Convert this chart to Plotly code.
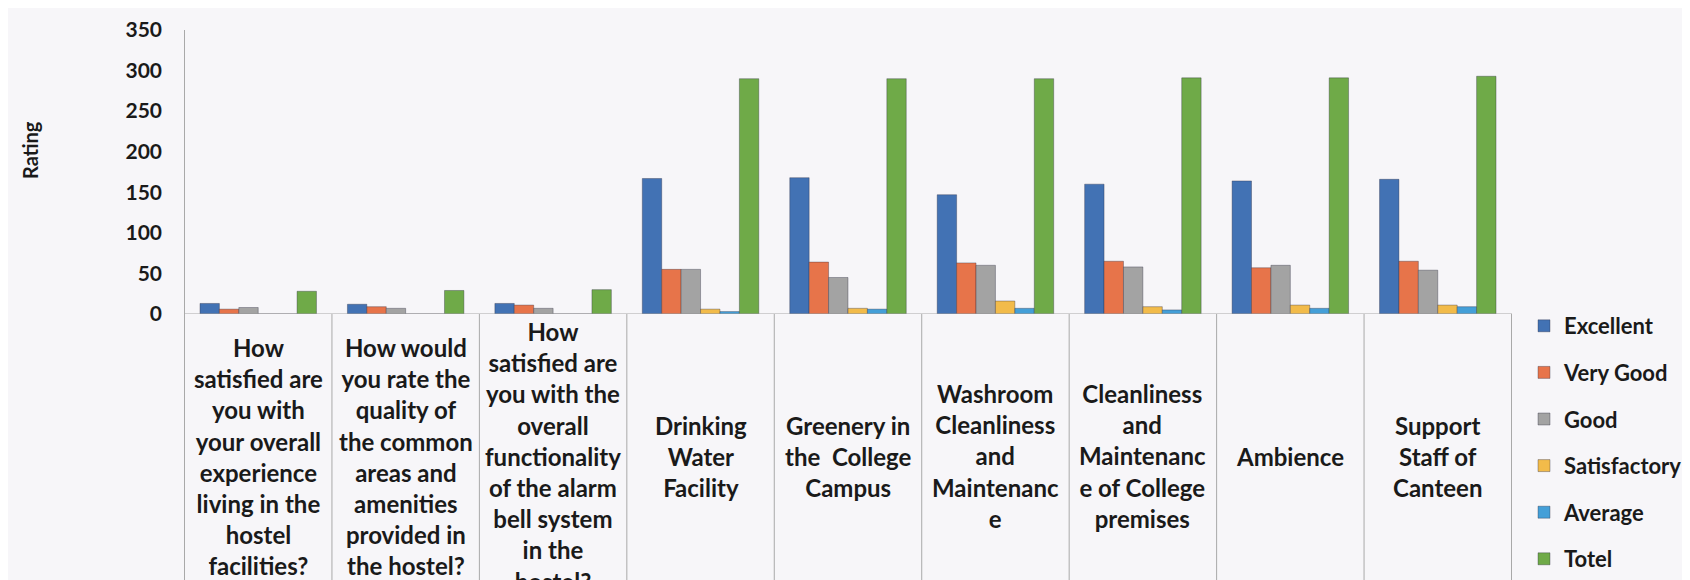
import plotly.graph_objects as go

# survey categories as printed under the axis (line breaks as in the original)
categories = [
    "How<br>satisfied are<br>you with<br>your overall<br>experience<br>living in the<br>hostel<br>facilities?",
    "How would<br>you rate the<br>quality of<br>the common<br>areas and<br>amenities<br>provided in<br>the hostel?",
    "How<br>satisfied are<br>you with the<br>overall<br>functionality<br>of the alarm<br>bell system<br>in the<br>hostel?",
    "Drinking<br>Water<br>Facility",
    "Greenery in<br>the  College<br>Campus",
    "Washroom<br>Cleanliness<br>and<br>Maintenanc<br>e",
    "Cleanliness<br>and<br>Maintenanc<br>e of College<br>premises",
    "Ambience",
    "Support<br>Staff of<br>Canteen",
]

excellent = [13, 12, 13, 167, 168, 147, 160, 164, 166]
very_good = [6, 9, 11, 55, 64, 63, 65, 57, 65]
good = [8, 7, 7, 55, 45, 60, 58, 60, 54]
satisfactory = [0, 0, 0, 6, 7, 16, 9, 11, 11]
average = [0, 0, 0, 3, 6, 7, 5, 7, 9]
totel = [28, 29, 30, 290, 290, 290, 291, 291, 293]

series = [
    ("Excellent", excellent, "#4272b4"),
    ("Very Good", very_good, "#e7744a"),
    ("Good", good, "#a3a3a3"),
    ("Satisfactory", satisfactory, "#f2bb4a"),
    ("Average", average, "#449fd8"),
    ("Totel", totel, "#6faa48"),
]

FONT = "Lato"
INK = "#1a1a1a"
LINE = "#a9a9a9"

# plot area in pixels
W, H = 1690, 580
L, R, T, B = 176, 186, 22, 274
plot_h = H - T - B

fig = go.Figure()
for name, vals, col in series:
    fig.add_trace(go.Bar(
        x=categories, y=vals, name=name,
        marker=dict(color=col, line=dict(color="rgba(40,40,60,0.35)", width=1)),
        legendgroup=name,
    ))

# box lines around the category labels
shapes = []
for i in range(len(categories) + 1):
    shapes.append(dict(type="line", xref="x", yref="paper",
                       x0=i - 0.5, x1=i - 0.5, y0=(0 if i else 1), y1=-1.2,
                       line=dict(color=LINE, width=1)))
shapes.append(dict(type="line", xref="paper", yref="y",
                   x0=0, x1=1, y0=0, y1=0, line=dict(color=LINE, width=1)))

label_y = (H - B - 448) / plot_h
annotations = [
    dict(x=c, xref="x", y=label_y, yref="paper", text=c, showarrow=False,
         xanchor="center", yanchor="middle", align="center",
         font=dict(family=FONT, size=24, color=INK, weight=700))
    for c in categories
]
annotations.append(dict(
    x=(22 - L) / (W - L - R), xref="paper", y=(H - B - 142) / plot_h, yref="paper",
    text="Rating", textangle=-90, showarrow=False, xanchor="center", yanchor="middle",
    font=dict(family=FONT, size=20, color=INK, weight=700)))

fig.update_layout(
    width=W, height=H, autosize=False,
    margin=dict(l=L, r=R, t=T, b=B, autoexpand=False),
    paper_bgcolor="#f7f6f9", plot_bgcolor="#f7f6f9",
    barmode="group", bargap=0.21, bargroupgap=0,
    shapes=shapes, annotations=annotations,
    legend=dict(
        x=(1516 - L) / (W - L - R), xanchor="left",
        y=(H - B - 297) / plot_h, yanchor="top",
        font=dict(family=FONT, size=22, color=INK, weight=700),
        tracegroupgap=15, bgcolor="rgba(0,0,0,0)",
    ),
    showlegend=True,
)
fig.update_xaxes(showticklabels=False, showline=False, showgrid=False, ticks="")
fig.update_yaxes(
    range=[0, 350], dtick=50, showgrid=False, zeroline=False, showline=False,
    ticks="", ticklabelstandoff=21,
    tickfont=dict(family=FONT, size=21, color=INK, weight=700),
)

fig.write_html("out.html")
